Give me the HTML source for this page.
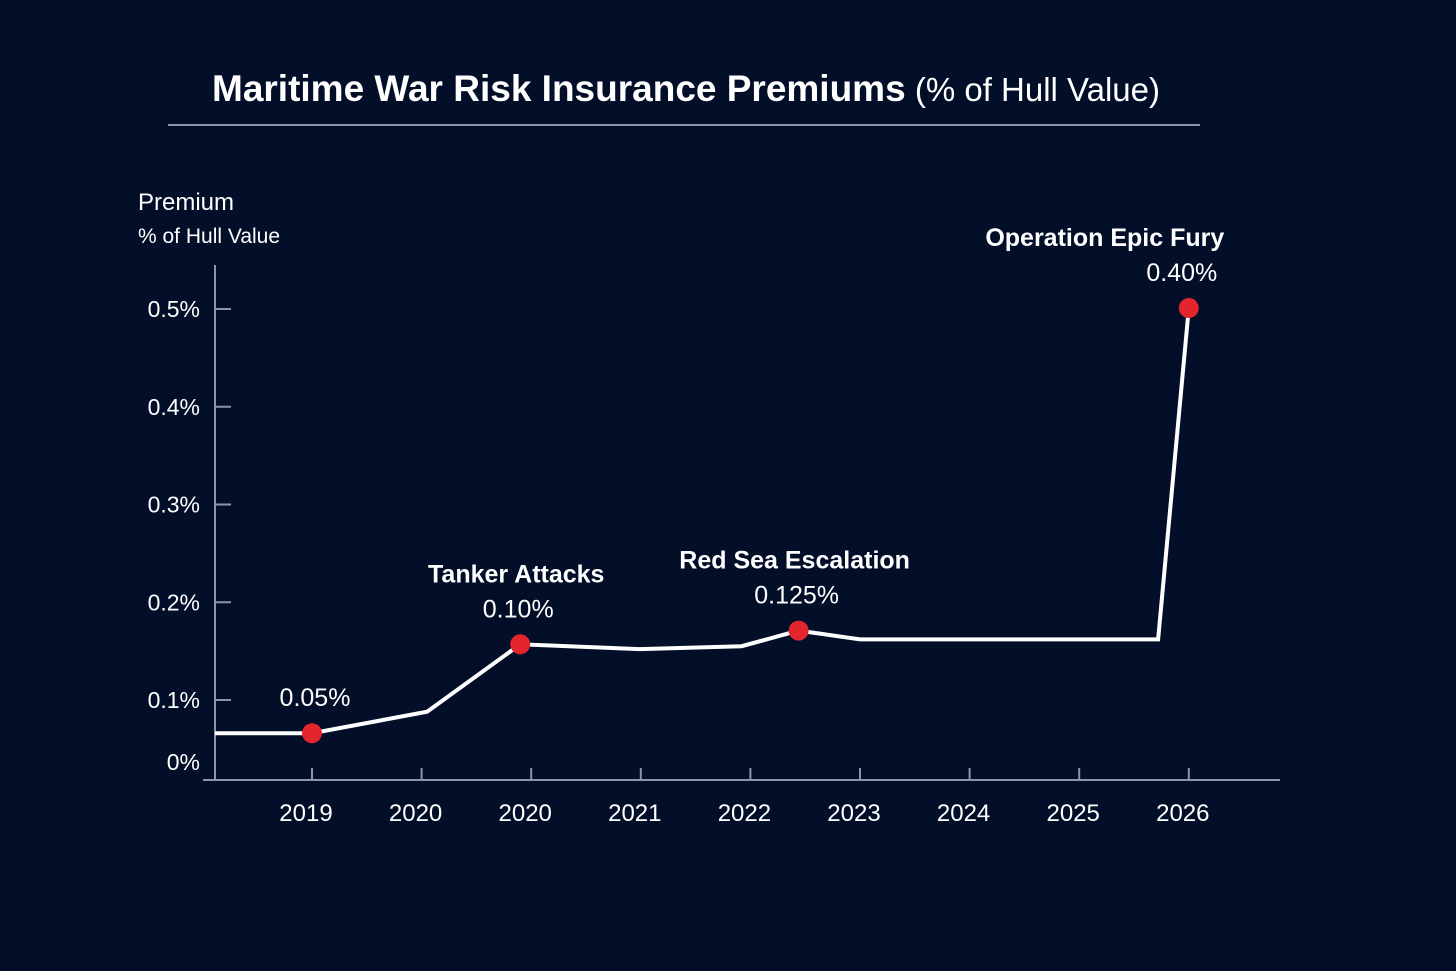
<!DOCTYPE html>
<html><head><meta charset="utf-8"><style>
html,body{margin:0;padding:0;background:#030e29;}
svg{display:block;font-family:"Liberation Sans","DejaVu Sans",sans-serif;}
</style></head><body>
<svg id="chart" width="1456" height="971" viewBox="0 0 1456 971">
<rect width="1456" height="971" fill="#030e29"/>
<text x="686" y="101" text-anchor="middle" fill="#ffffff" font-size="37"><tspan font-weight="bold">Maritime War Risk Insurance Premiums</tspan><tspan font-size="33"> (% of Hull Value)</tspan></text>
<line x1="168" y1="125" x2="1200" y2="125" stroke="#8d95aa" stroke-width="2"/>
<text x="138" y="210" fill="#ffffff" font-size="24">Premium</text>
<text x="138" y="243" fill="#ffffff" font-size="21">% of Hull Value</text>
<line x1="215" y1="265" x2="215" y2="780" stroke="#8d95aa" stroke-width="2"/>
<line x1="203" y1="780" x2="1280" y2="780" stroke="#8d95aa" stroke-width="2"/>
<g id="ticks"></g><g id="series"></g><g id="marks"></g>
</svg>
<script>
const categories=["2019","2020","2020","2021","2022","2023","2024","2025","2026"];
const yTickValues=[0.5,0.4,0.3,0.2,0.1];
const yTickLabels=["0.5%","0.4%","0.3%","0.2%","0.1%"];
const seriesX=[-0.885,0,1.05,1.9,2.99,3.92,4.44,5.0,7.72,8.0];
const seriesY=[0.066,0.066,0.088,0.157,0.152,0.155,0.171,0.162,0.162,0.501];
const eventX=[0,1.9,4.44,8];
const eventY=[0.066,0.157,0.171,0.501];
const eventNames=["","Tanker Attacks","Red Sea Escalation","Operation Epic Fury"];
const eventValues=["0.05%","0.10%","0.125%","0.40%"];

const NS="http://www.w3.org/2000/svg";
function xs(i){return 312+i*109.6;}
function ys(v){return 797.75-v*977.5;}
function mk(tag,attrs,parent,txt){const e=document.createElementNS(NS,tag);for(const k in attrs)e.setAttribute(k,attrs[k]);if(txt!==undefined)e.textContent=txt;parent.appendChild(e);return e;}
const ticks=document.getElementById('ticks');
yTickValues.forEach((v,i)=>{
  const t=mk('line',{x1:215,x2:231,y1:ys(v),y2:ys(v),stroke:'#8d95aa','stroke-width':2},ticks);
  
  
  const l=mk('text',{x:200,y:ys(v)+8,'text-anchor':'end',fill:'#fff','font-size':23},ticks,yTickLabels[i]);
  
  
});
const z=mk('text',{x:200,y:770,'text-anchor':'end',fill:'#fff','font-size':23},ticks,"0%");


categories.forEach((c,i)=>{
  const t=mk('line',{x1:xs(i),x2:xs(i),y1:768,y2:780,stroke:'#8d95aa','stroke-width':2},ticks);
  
  
  const l=mk('text',{x:xs(i)-6,y:821,'text-anchor':'middle',fill:'#fff','font-size':24},ticks,c);
  
  
});
const pts=seriesX.map((x,i)=>xs(x)+','+ys(seriesY[i])).join(' ');
const line=mk('polyline',{points:pts,fill:'none',stroke:'#fff','stroke-width':4,'stroke-linejoin':'miter'},document.getElementById('series'));


const marks=document.getElementById('marks');
eventX.forEach((x,i)=>{
  const cx=xs(x),cy=ys(eventY[i]);
  const c=mk('circle',{cx:cx,cy:cy,r:10,fill:'#e3262d'},marks);
  
  
  const dx=(i==3)?-7:(i==0?3:-2);
  const v=mk('text',{x:cx+dx,y:cy-27,'text-anchor':'middle',fill:'#fff','font-size':25},marks,eventValues[i]);
  
  
  if(eventNames[i]){
    const n=mk('text',{x:(i==3)?cx-84:cx-4,y:cy-62,'text-anchor':'middle',fill:'#fff','font-size':25,'font-weight':'bold'},marks,eventNames[i]);
    
    
  }
});
</script>
</body></html>
